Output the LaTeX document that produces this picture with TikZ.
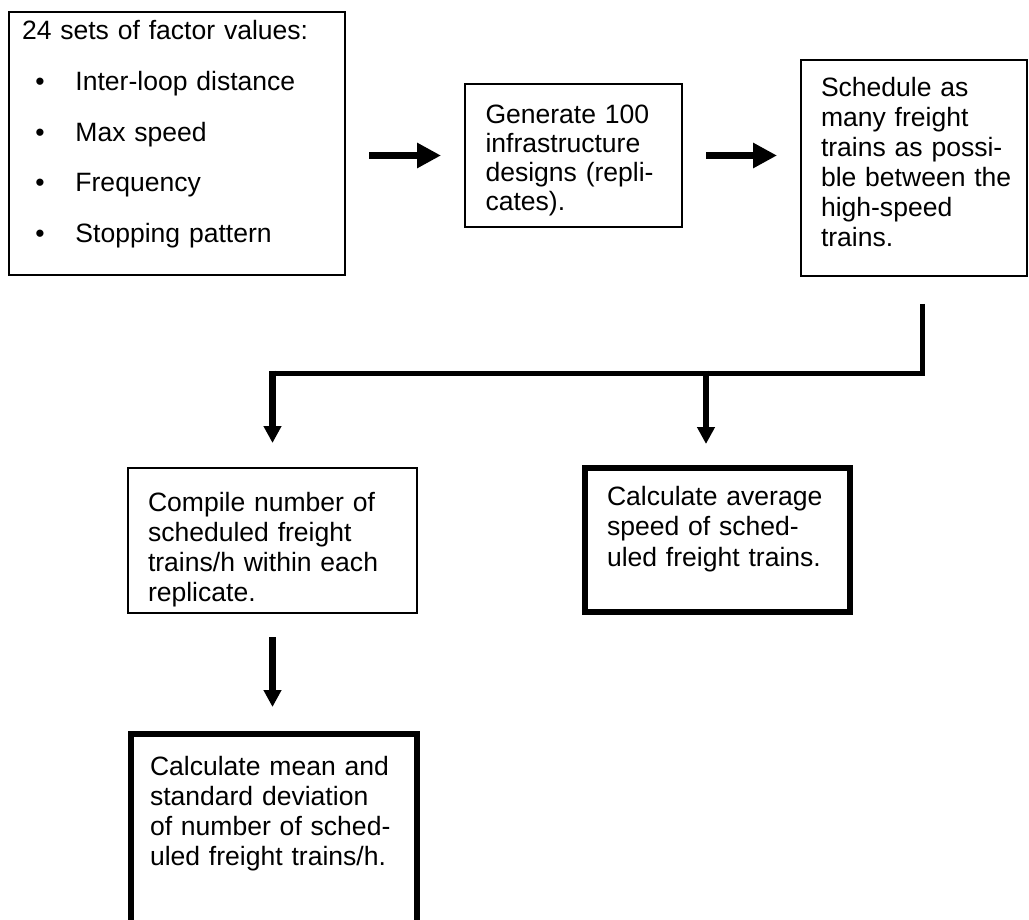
\documentclass[tikz,border=0pt]{standalone}
\usepackage{fontspec}
\setmainfont{Liberation Sans}
\usetikzlibrary{arrows.meta,calc}
\begin{document}
\begin{tikzpicture}[x=0.75pt,y=-0.75pt,
  box/.style={draw=black, line width=1pt, inner sep=0pt, outer sep=0pt, anchor=north west},
  boldbox/.style={box, line width=4.5pt},
  txt/.style={anchor=base west, inner sep=0pt, outer sep=0pt, text width=320pt, align=left, font=\fontsize{19.9}{22.5}\selectfont},
  harrow/.style={line width=5.6pt, -{Triangle[length=18pt,width=18pt]}},
  darrow/.style={line width=4.75pt, -{Triangle[length=12.75pt,width=12.75pt]}},
  bus/.style={line width=3.75pt}
]
\useasboundingbox (0,0) rectangle (1029,920);
\fill[white] (0,0) rectangle (1029,920);

% boxes
\node[box, minimum width=252pt, minimum height=197.25pt] (b1) at (9,12) {};
\node[box, minimum width=162.75pt, minimum height=107.25pt] (b2) at (465,84) {};
\node[box, minimum width=169.5pt, minimum height=162pt] (b3) at (801,60) {};
\node[box, minimum width=216.75pt, minimum height=108.75pt] (b4) at (128,468) {};
\node[boldbox, minimum width=198.75pt, minimum height=108pt] (b5) at (585,468) {};
\node[boldbox, minimum width=214.5pt, minimum height=170pt] (b6) at (130.5,733.5) {};

% texts
\node[txt, font=\fontsize{19.9}{38}\selectfont] (t1) at (22,40) {24 sets of factor values:\\
\hspace*{10.1pt}\makebox[30pt][l]{•}Inter-loop distance\\
\hspace*{10.1pt}\makebox[30pt][l]{•}Max speed\\
\hspace*{10.1pt}\makebox[30pt][l]{•}Frequency\\
\hspace*{10.1pt}\makebox[30pt][l]{•}Stopping pattern};
\node[txt, font=\fontsize{19.9}{21.9}\selectfont] (t2) at (485.5,123.3) {Generate 100\\infrastructure\\designs (repli-\\cates).};
\node[txt] (t3) at (821,96.7) {Schedule as\\many freight\\trains as possi-\\ble between the\\high-speed\\trains.};
\node[txt] (t4) at (148,511.7) {Compile number of\\scheduled freight\\trains/h within each\\replicate.};
\node[txt, font=\fontsize{19.9}{23.2}\selectfont] (t5) at (607,505) {Calculate average\\speed of sched-\\uled freight trains.};
\node[txt] (t6) at (150,775) {Calculate mean and\\standard deviation\\of number of sched-\\uled freight trains/h.};

% connectors
\draw[harrow, shorten <=18pt, shorten >=18pt] (b1.east |- b2.west) -- (b2.west);
\draw[harrow, shorten <=18pt, shorten >=18pt] (b2.east) -- (b3.west |- b2.east);

\coordinate (ts) at ($(b3.south)+(8,28)$);
\coordinate (jl) at ($(b4.north)+(0,-95)$);
\coordinate (jm) at (706,373);
\draw[bus] (ts) |- ($(jl)+(-3.2,0)$);
\draw[darrow] ($(jl)+(0,-2.5)$) -- ($(b4.north)+(0,-25)$);
\draw[darrow] ($(jm)+(0,-2.5)$) -- ($(jm |- b5.north)+(0,-24)$);
\draw[darrow] ($(b4.south)+(0,24)$) -- ($(b4.south |- b6.north)+(0,-26.5)$);
\end{tikzpicture}
\end{document}
